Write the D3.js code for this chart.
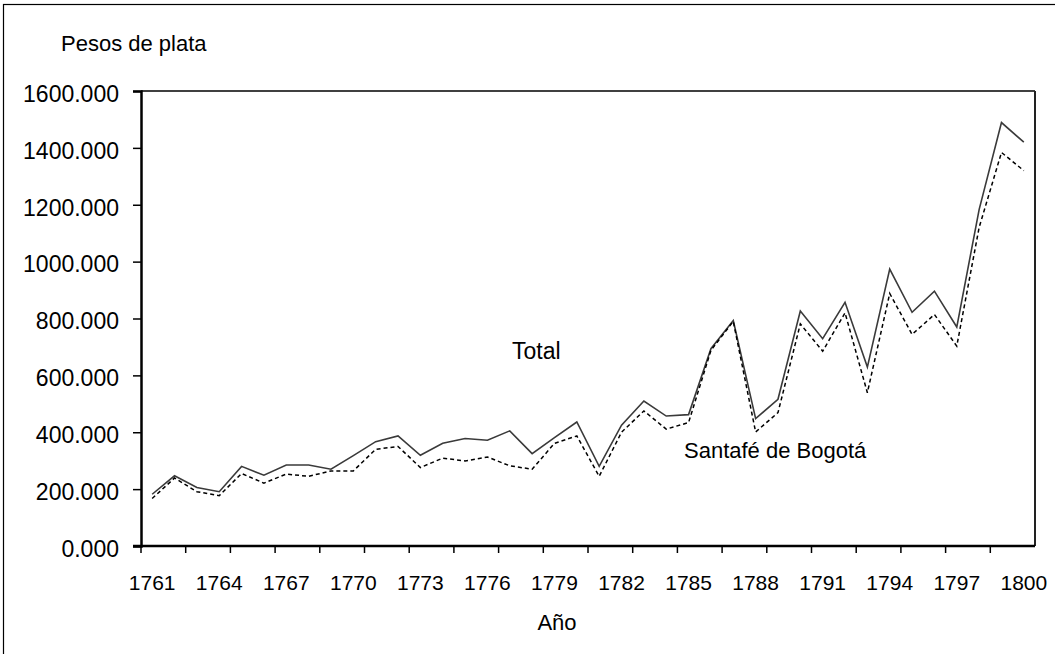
<!DOCTYPE html>
<html>
<head>
<meta charset="utf-8">
<script src="https://cdn.jsdelivr.net/npm/d3@7"></script>
<style>
  body { margin: 0; background: #fff; }
  text { font-family: "Liberation Sans", Arial, sans-serif; fill: #000; }
</style>
</head>
<body>
<div id="vis"></div>
<script>
// years on the x axis
const years = [1761, 1762, 1763, 1764, 1765, 1766, 1767, 1768, 1769, 1770,
               1771, 1772, 1773, 1774, 1775, 1776, 1777, 1778, 1779, 1780,
               1781, 1782, 1783, 1784, 1785, 1786, 1787, 1788, 1789, 1790,
               1791, 1792, 1793, 1794, 1795, 1796, 1797, 1798, 1799, 1800]
// solid line
const total = [182, 247, 206, 191, 280, 249, 285, 285, 270, 318,
               367, 387, 319, 361, 378, 372, 405, 325, 381, 436,
               280, 425, 510, 457, 462, 694, 793, 448, 516, 826,
               729, 857, 629, 974, 822, 896, 770, 1183, 1489, 1420]
// dashed line
const santafe = [167, 239, 191, 177, 255, 221, 253, 245, 264, 264,
                 340, 350, 276, 309, 299, 313, 282, 270, 361, 387,
                 245, 400, 475, 411, 434, 688, 790, 401, 469, 781,
                 685, 820, 539, 888, 744, 814, 703, 1120, 1384, 1320]
const yTicks = [0, 200, 400, 600, 800, 1000, 1200, 1400, 1600]

const W = 1055, H = 654
const margin = {left: 141, right: 1035, top: 91, bottom: 546}

const svg = d3.select("#vis").append("svg")
    .attr("width", W)
    .attr("height", H)

// outer frame (only top and left edge are visible in the picture)
svg.append("rect")
    .attr("x", 3.5).attr("y", 4.5)
    .attr("width", W + 10).attr("height", H + 10)
    .attr("fill", "none")
    .attr("stroke", "#000")
    .attr("stroke-width", 1.2)

const x = d3.scaleBand()
    .domain(years)
    .range([margin.left, margin.right])
    .padding(0)
const y = d3.scaleLinear()
    .domain([0, 1600])
    .range([margin.bottom, margin.top])

const cx = d => x(d) + x.bandwidth() / 2

// plot box: top and right sides
svg.append("line")
    .attr("x1", margin.left).attr("x2", margin.right)
    .attr("y1", y(1600)).attr("y2", y(1600))
    .attr("stroke", "#000").attr("stroke-width", 1.5)
svg.append("line")
    .attr("x1", margin.right).attr("x2", margin.right)
    .attr("y1", y(1600)).attr("y2", y(0))
    .attr("stroke", "#222").attr("stroke-width", 2)

// y axis
const yAxis = svg.append("g")
    .attr("transform", "translate(" + margin.left + ",0)")
    .call(d3.axisLeft(y)
        .tickValues(yTicks)
        .tickSize(8)
        .tickPadding(14)
        .tickFormat(d => d + ".000"))
yAxis.select(".domain").attr("stroke-width", 2.5)
yAxis.selectAll(".tick line").attr("stroke-width", 1.5)
yAxis.selectAll("text")
    .style("font-size", "23px")
    .attr("dy", "0.45em")

// x axis line
svg.append("line")
    .attr("x1", margin.left - 8).attr("x2", margin.right)
    .attr("y1", y(0)).attr("y2", y(0))
    .attr("stroke", "#000").attr("stroke-width", 2.5)

// tick marks every two years, at band edges
const tickYears = years.filter((d, i) => i % 2 === 0)
svg.selectAll(".xtick")
    .data(tickYears)
    .enter()
    .append("line")
    .attr("class", "xtick")
    .attr("x1", d => x(d)).attr("x2", d => x(d))
    .attr("y1", y(0)).attr("y2", y(0) + 7)
    .attr("stroke", "#000").attr("stroke-width", 1.5)

// year labels every three years
const labelYears = years.filter((d, i) => i % 3 === 0)
svg.selectAll(".xlabel")
    .data(labelYears)
    .enter()
    .append("text")
    .attr("class", "xlabel")
    .attr("x", d => cx(d))
    .attr("y", 590)
    .attr("text-anchor", "middle")
    .style("font-size", "21px")
    .text(d => d)

// lines
const line = d3.line()
    .x((d, i) => cx(years[i]))
    .y(d => y(d))

svg.append("path")
    .datum(total)
    .attr("d", line)
    .attr("fill", "none")
    .attr("stroke", "#3a3a3a")
    .attr("stroke-width", 1.6)

svg.append("path")
    .datum(santafe)
    .attr("d", line)
    .attr("fill", "none")
    .attr("stroke", "#000")
    .attr("stroke-width", 1.5)
    .attr("stroke-dasharray", "4,3")

// texts
svg.append("text")
    .attr("x", 61).attr("y", 51)
    .style("font-size", "22px")
    .text("Pesos de plata")

svg.append("text")
    .attr("x", 557).attr("y", 630)
    .attr("text-anchor", "middle")
    .style("font-size", "22px")
    .text("Año")

svg.append("text")
    .attr("x", 512).attr("y", 359)
    .style("font-size", "23px")
    .text("Total")

svg.append("text")
    .attr("x", 684).attr("y", 458)
    .style("font-size", "22px")
    .text("Santafé de Bogotá")
</script>
</body>
</html>
